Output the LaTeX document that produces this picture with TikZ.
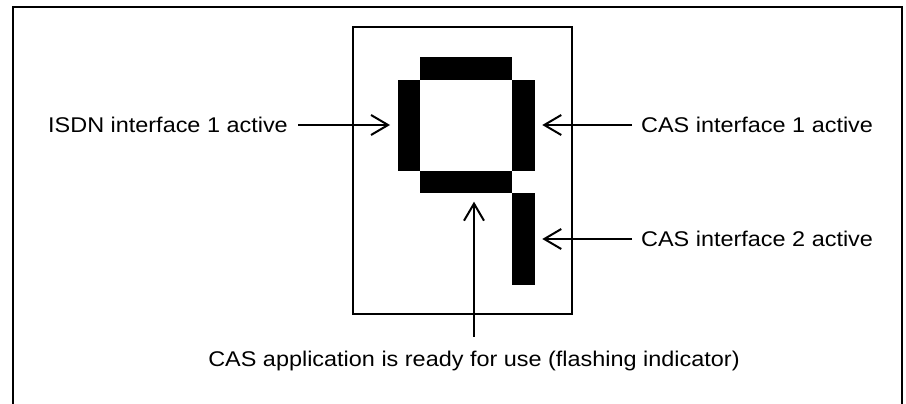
\documentclass[tikz,border=0pt]{standalone}
\usepackage{fontspec}
\setmainfont[FakeStretch=1.1]{Liberation Sans}
\usetikzlibrary{arrows.meta}
\begin{document}
\begin{tikzpicture}[x=1pt,y=-1pt,
  frame/.style={draw=black,line width=2pt},
  seg/.style={fill=black,draw=none},
  lbl/.style={font=\fontsize{21.3}{25}\selectfont,inner sep=0pt,anchor=center},
  pointer/.style={line width=2pt,-{Straight Barb[length=17pt,width=20pt,line width=2pt]}}]
\useasboundingbox (0,0) rectangle (906,404);
% outer frame (open at bottom)
\draw[frame] (12.5,404) -- (12.5,7.5) -- (902,7.5) -- (902,404);
% display housing
\draw[frame] (352.7,26.7) rectangle (572.3,314);
% segments
\fill[seg] (420,57.3) rectangle (511.7,80);
\fill[seg] (398.3,80) rectangle (420.3,170.7);
\fill[seg] (511.7,80) rectangle (535,170.7);
\fill[seg] (420,170.7) rectangle (511.7,193.3);
\fill[seg] (511.7,193.3) rectangle (535,285);
% labels
\node[lbl,anchor=west] (isdn) at (48,125) {ISDN interface 1 active};
\node[lbl,anchor=west] (cas1) at (641,125) {CAS interface 1 active};
\node[lbl,anchor=west] (cas2) at (641,239) {CAS interface 2 active};
\node[lbl] (app) at (474,361) {CAS application is ready for use (flashing indicator)};
% arrow tips
\coordinate (tisdn) at (390,125);
\coordinate (tcas1) at (542.3,125);
\coordinate (tcas2) at (542.3,239);
\coordinate (tapp) at (474,201.7);
\coordinate (sapp) at (474,336.7);
% connectors
\draw[pointer] ([xshift=10pt]isdn.east) -- (tisdn);
\draw[pointer] ([xshift=-9pt]cas1.west) -- (tcas1);
\draw[pointer] ([xshift=-9pt]cas2.west) -- (tcas2);
\draw[pointer] (sapp) -- (tapp);
\end{tikzpicture}
\end{document}
